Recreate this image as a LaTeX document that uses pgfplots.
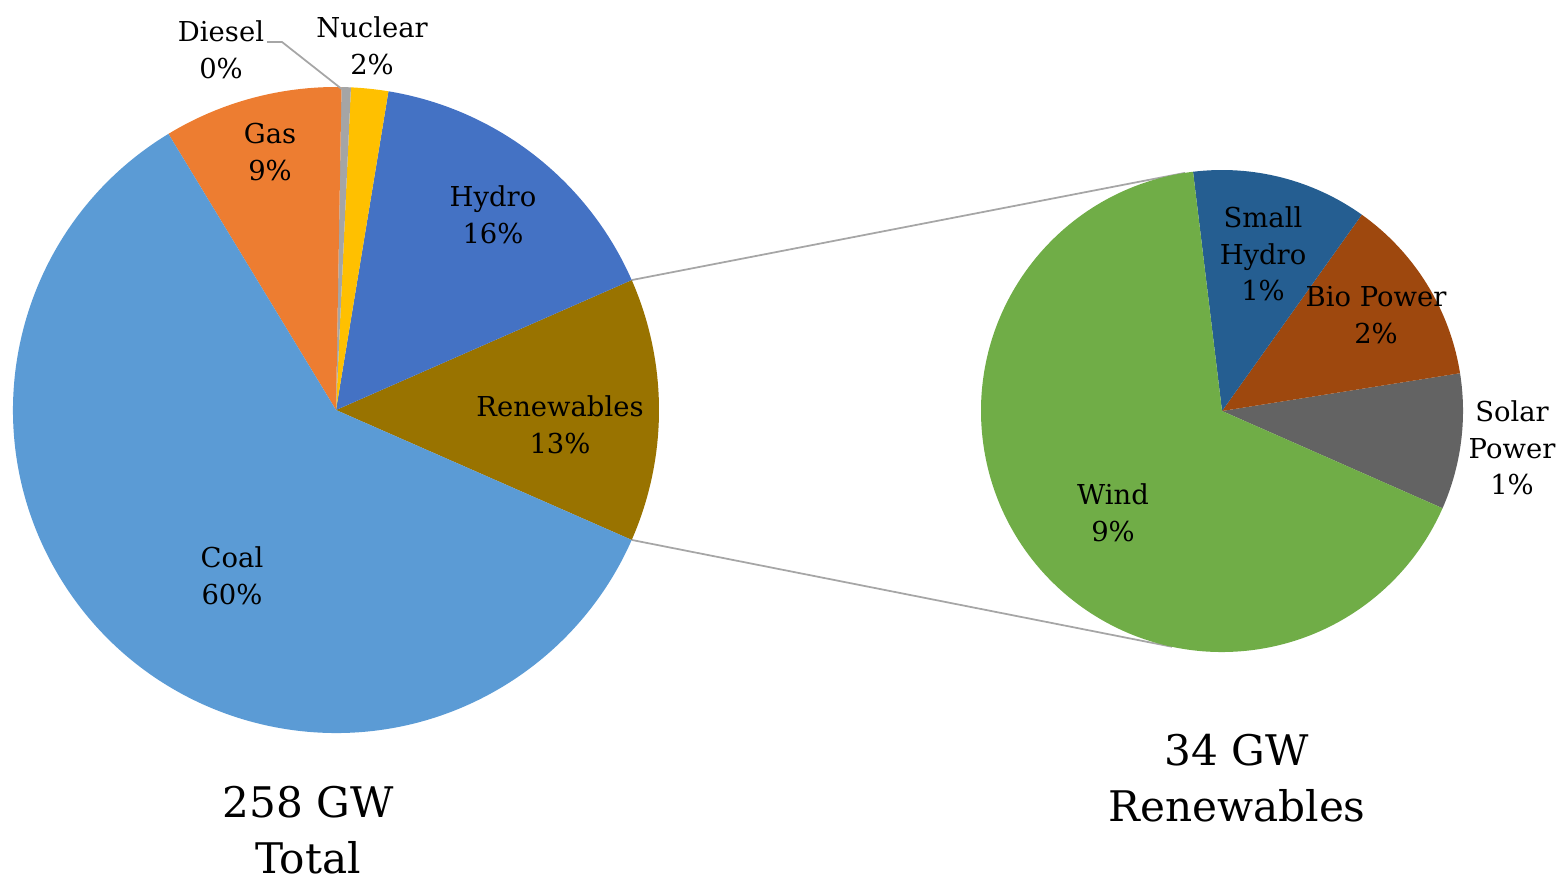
\documentclass[border=0pt]{standalone}
\usepackage{fontspec}
\setmainfont{DejaVu Serif}
\usepackage{pgfplots}
\pgfplotsset{compat=1.18}
\usetikzlibrary{calc}
\definecolor{cCoal}{HTML}{5B9BD5}
\definecolor{cGas}{HTML}{ED7D31}
\definecolor{cDiesel}{HTML}{A5A5A5}
\definecolor{cNuc}{HTML}{FFC000}
\definecolor{cHydro}{HTML}{4472C4}
\definecolor{cRes}{HTML}{997300}
\definecolor{cWind}{HTML}{70AD47}
\definecolor{cSmall}{HTML}{255E91}
\definecolor{cBio}{HTML}{9E480E}
\definecolor{cSolar}{HTML}{636363}
\definecolor{cLine}{HTML}{A6A6A6}
% capacities in GW
\def\vRes{34}\def\vHydro{40.8}\def\vNuc{4.8}\def\vDiesel{1.2}\def\vGas{23.1}\def\vCoal{154.1}
\def\vSolar{3.1}\def\vBio{4.3}\def\vSmall{4.0}\def\vWind{22.6}
\pgfmathsetmacro\totL{\vRes+\vHydro+\vNuc+\vDiesel+\vGas+\vCoal}
\pgfmathsetmacro\kL{360/\totL}
\pgfmathsetmacro\aA{-0.5*\kL*\vRes}
\pgfmathsetmacro\aB{\aA+\kL*\vRes}
\pgfmathsetmacro\aC{\aB+\kL*\vHydro}
\pgfmathsetmacro\aD{\aC+\kL*\vNuc}
\pgfmathsetmacro\aE{\aD+\kL*\vDiesel}
\pgfmathsetmacro\aF{\aE+\kL*\vGas}
\pgfmathsetmacro\aG{\aF+\kL*\vCoal}
\pgfmathsetmacro\totR{\vSolar+\vBio+\vSmall+\vWind}
\pgfmathsetmacro\kR{360/\totR}
\def\bA{-23.8}
\pgfmathsetmacro\bB{\bA+\kR*\vSolar}
\pgfmathsetmacro\bC{\bB+\kR*\vBio}
\pgfmathsetmacro\bD{\bC+\kR*\vSmall}
\pgfmathsetmacro\bE{\bD+\kR*\vWind}
\def\rL{3.23cm}\def\rR{2.41cm}
\newcommand\pwedge[5]{\fill[#1] (axis cs:#2) -- ++(#3:#5) arc[start angle=#3, end angle=#4, radius=#5] -- cycle;}
\begin{document}
\begin{tikzpicture}
\begin{axis}[hide axis, scale only axis, width=15.6cm, height=8.85cm,
  xmin=0, xmax=1560, ymin=0, ymax=885, clip=false]
\coordinate (SW) at (axis cs:0,0);
\coordinate (NE) at (axis cs:1560,885);
% connectors
\draw[cLine, line width=0.5pt] ($(axis cs:336,475)+(\aB:\rL)$) -- ($(axis cs:1222,474)+(98.8:\rR)$);
\draw[cLine, line width=0.5pt] ($(axis cs:336,475)+(\aA:\rL)$) -- ($(axis cs:1222,474)+(258:\rR)$);
% left pie
\pwedge{cRes}{336,475}{\aA}{\aB}{\rL}
\pwedge{cHydro}{336,475}{\aB}{\aC}{\rL}
\pwedge{cNuc}{336,475}{\aC}{\aD}{\rL}
\pwedge{cDiesel}{336,475}{\aD}{\aE}{\rL}
\pwedge{cGas}{336,475}{\aE}{\aF}{\rL}
\pwedge{cCoal}{336,475}{\aF}{\aG}{\rL}
% right pie
\pwedge{cSolar}{1222,474}{\bA}{\bB}{\rR}
\pwedge{cBio}{1222,474}{\bB}{\bC}{\rR}
\pwedge{cSmall}{1222,474}{\bC}{\bD}{\rR}
\pwedge{cWind}{1222,474}{\bD}{\bE}{\rR}
% leader for diesel
\draw[cLine, line width=0.5pt] (axis cs:267,843) -- (axis cs:282,843) -- (axis cs:343,795);
\tikzset{lab/.style={align=center, font=\fontsize{7.8}{10.4}\selectfont, text=black, inner sep=0pt},
  big/.style={align=center, font=\fontsize{12}{16}\selectfont, text=black, inner sep=0pt}}
\node[lab] at (axis cs:221,835) {Diesel\\0\%};
\node[lab] at (axis cs:372,839) {Nuclear\\2\%};
\node[lab] at (axis cs:270,733) {Gas\\9\%};
\node[lab] at (axis cs:493,670) {Hydro\\16\%};
\node[lab] at (axis cs:560,460) {Renewables\\13\%};
\node[lab] at (axis cs:232,309) {Coal\\60\%};
\node[lab] at (axis cs:1263,631) {Small\\Hydro\\1\%};
\node[lab] at (axis cs:1376,570) {Bio Power\\2\%};
\node[lab] at (axis cs:1512,437) {Solar\\Power\\1\%};
\node[lab] at (axis cs:1113,372) {Wind\\9\%};
\node[big] at (axis cs:1237,107) {34 GW\\Renewables};
\node[big] at (axis cs:308,55) {258 GW\\Total};
\end{axis}
\pgfresetboundingbox
\useasboundingbox (SW) rectangle (NE);
\end{tikzpicture}
\end{document}
